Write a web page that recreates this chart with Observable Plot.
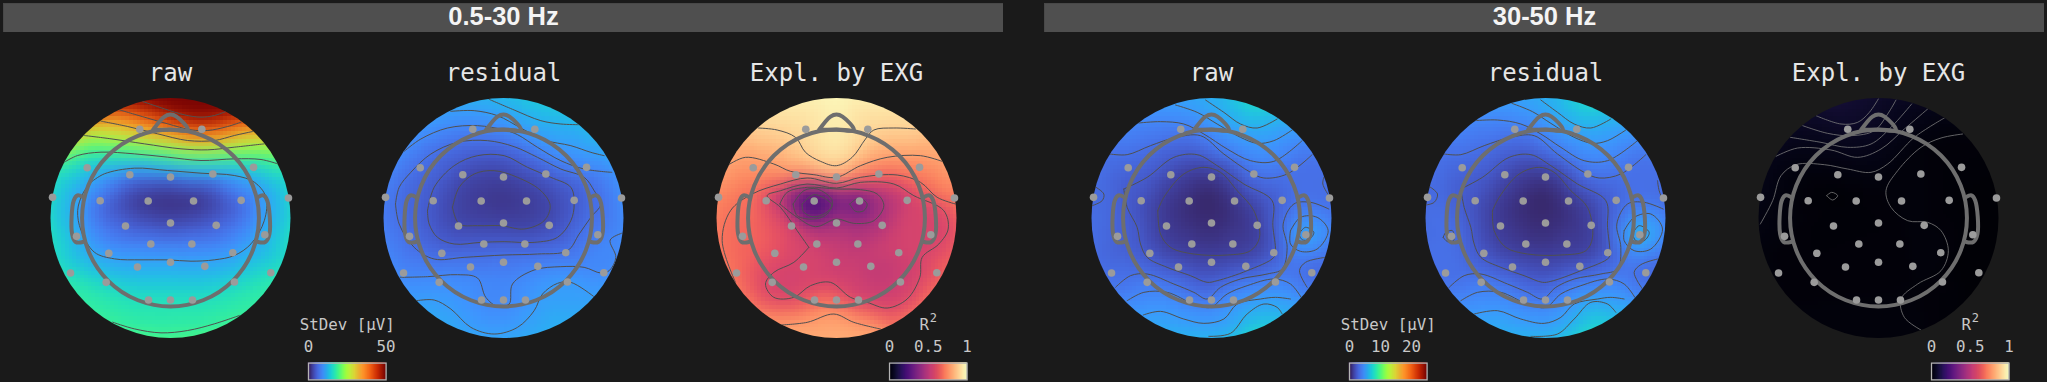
<!DOCTYPE html>
<html><head><meta charset="utf-8">
<script src="https://cdn.jsdelivr.net/npm/d3@7"></script>
<script src="https://cdn.jsdelivr.net/npm/@observablehq/plot@0.6"></script>
<style>
html,body{margin:0;padding:0;background:#1a1a1a;overflow:hidden}
#page{position:relative;width:2047px;height:382px;background:#1a1a1a;overflow:hidden}
#page>div{position:absolute}
</style></head><body><div id="page"></div>
<script>
// ---------- channels (head units: disk radius = 1) ----------
const sensorX=[-.256,.261,-.694,.692,-.339,0,.353,-.983,.983,-.586,-.186,.192,.589,-.375,0,.381,-.783,.786,-.514,-.164,.178,.519,-.275,0,.286,-.833,.836,-.536,.533,-.183,0,.183];
const sensorY=[.739,.739,.419,.422,.361,.342,.367,.172,.167,.144,.142,.142,.147,-.067,-.042,-.061,-.153,-.139,-.294,-.217,-.217,-.289,-.408,-.369,-.403,-.458,-.456,-.536,-.533,-.683,-.683,-.683];
const noseOutline=[[-.145,.735],[-.05,.845],[0,.862],[.05,.845],[.145,.735],[0,.735],[-.145,.735]];
const earLeft=[[-.73,.175],[-.775,.188],[-.806,.146],[-.82,-.132],[-.79,-.2],[-.73,-.2]];
const earRight=[[.73,.175],[.775,.188],[.806,.146],[.825,-.132],[.79,-.2],[.73,-.2]];
const headRadius=.737;

// ---------- 0.5-30 Hz raw, StDev in µV ----------
const lowRawCentre=[508.5,652.5];
const lowRawRim=[70,58,41,18,18,18,19,21,22,21,19,18,18,18.5,41,60];
const lowRawSpots=[[2,510,610],[2.2,420,610],[2.2,600,610],[3,510,570],[3,510,650],[3.5,370,610],[3.5,650,610],[5.5,310,620],[5.5,710,620],[5,510,540],[5,510,690],[5.5,400,680],[5.5,620,680],[5,400,545],[5,620,550],[8,510,730],
[17,400,900],[17,510,900],[17,620,900],[17.5,300,880],[17.5,720,880],[15,180,700],[15,840,700],[14,510,840]];
const lowRawContours=[
[48.5,[425,303,490,325,550,343,600,350,640,345,675,333]],
[41,[355,328,430,350,500,370,570,388,620,390,680,378,720,365]],
[33.5,[300,362,380,378,470,400,560,420,640,420,700,405,755,393]],
[26,[250,405,330,415,430,430,540,445,620,448,700,440,790,430]],
[18.5,[190,485,230,465,300,455,400,460,500,470,600,480,700,475,780,477,830,490]],
[18.5,[335,965,400,985,480,997,560,990,640,970,715,945]],
[11,[270,545,310,520,400,503,500,510,600,518,700,525,760,545,795,590,790,660,750,730,700,765,640,778,570,782,500,778,420,778,340,775,280,755,240,690,230,630,245,580,270,545]]];

// ---------- 0.5-30 Hz residual ----------
const lowResCentre=[398,532];
const lowResRim=[14,16,15,12.5,11,10,13,13,12.5,12.5,12,10,9,10,11.5,13];
const lowResSpots=[[2.2,390,470],[2.6,450,490],[2.6,330,480],[2.8,390,520]];
const lowResContours=[
[12.5,[355,176,430,208,510,240,570,250,625,252]],
[10.8,[240,212,310,210,380,225,450,262,520,298,600,315,660,335,700,345]],
[9,[100,332,150,295,230,262,320,255,400,268,440,282,500,320,570,360,640,385,723,395]],
[7,[74,490,85,550,130,620,190,655,280,650,400,643,500,640,590,630,625,580,660,530,690,490,670,450,640,410,570,385,500,350,430,318,350,300,260,305,180,340,120,395,85,440,74,490]],
[5.2,[170,510,190,440,250,375,320,345,400,345,470,380,540,410,600,440,610,490,600,540,560,590,490,605,400,603,330,605,250,610,200,590,175,550,170,510]],
[3.5,[245,500,265,440,310,400,370,390,440,410,510,450,538,495,520,540,460,565,390,555,320,555,265,550,245,500]],
[9,[88,710,170,708,260,702,320,712,345,770,380,797,415,790,425,730,490,688,570,678,640,680,690,697,715,690,735,650,718,598,752,578]],
[10.8,[138,780,190,778,240,805,300,860,370,880,440,860,490,810,515,760,560,728,600,725,668,767]]];

// ---------- 0.5-30 Hz explained variance, R² ----------
const lowExgCentre=[468,532];
const lowExgRim=[1,.98,.9,.83,.72,.72,.77,.8,.84,.83,.78,.74,.76,.82,.9,.98];
const lowExgSpots=[[.2,400,490],[.28,535,490],[.24,430,490],[.28,370,490],[.25,400,520],[.3,535,500],[.38,468,490],[.41,468,515],[.4,570,500],[.4,330,490],
[.52,600,700],[.54,530,650],[.56,468,700],[.57,640,600],[.66,250,600],[.67,200,650],[.96,468,320],[.53,468,600],[.57,350,720]];
const lowExgContours=[
[.91,[233,262,290,268,345,290,375,335,420,362,468,375,515,350,555,295,580,268,640,262,705,265]],
[.8,[140,375,195,350,280,370,330,392,400,402,468,410,540,375,620,350,720,345,785,362]],
[.7,[165,725,125,600,150,510,215,460,300,430,380,412,468,428,540,410,650,403,720,425,770,470,825,490]],
[.58,[385,620,350,570,300,500,260,465,300,450,380,430,468,442,540,425,640,430,700,465,790,510,803,565,775,610,725,650,718,710,680,775,620,802,560,785,510,770,450,725,390,735,340,770,280,770,255,730,280,695,340,665,385,620]],
[.46,[298,490,320,455,380,440,468,445,540,447,590,460,610,495,580,540,520,548,468,535,405,558,350,530,298,490]],
[.34,[338,490,370,450,410,445,455,480,440,520,400,535,350,525,338,490]],
[.26,[365,490,400,462,440,478,455,495,430,520,395,528,368,512,365,490]],
[.34,[508,490,535,472,560,490,550,510,525,512,508,490]],
[.8,[300,853,380,845,460,820,520,845,600,865]]];

// ---------- 30-50 Hz raw ----------
const highRawCentre=[453,532];
const highRawRim=[6,9,6.2,3.7,3.5,3.2,6.2,9.2,7.2,6.7,5.5,3.5,3.2,3.5,4.7,6];
const highRawSpots=[[.6,450,465],[.8,420,530],[.9,510,530],[1,440,600],[1,350,500],[1.1,530,540],[7.2,735,580],[3.1,760,700],[3.2,800,430],[3,95,465]];
const highRawContours=[
[6.1,[435,178,490,215,540,250,590,262,650,235]],
[5.25,[345,193,410,215,470,250,540,290,590,308,640,300,695,268]],
[4.4,[235,247,300,243,370,250,430,280,500,325,570,360,640,362,725,300]],
[3.5,[148,340,200,342,270,315,340,292,420,285,490,340,570,395,610,412,680,400,755,342]],
[2.6,[190,445,260,410,340,350,410,342,470,375,550,430,635,480,637,555,645,630,640,650,560,690,470,720,440,725,390,705,320,680,260,650,240,610,230,560,200,500,190,445]],
[1.5,[292,510,310,470,370,400,430,380,480,395,530,450,580,510,597,590,570,630,500,643,400,640,330,620,300,580,292,510]],
[3.5,[165,740,210,705,260,700,340,730,400,755,440,775,480,740,540,715,620,700,665,685,680,620,668,550,700,490,750,485,805,505]],
[4.4,[200,780,250,755,320,755,400,790,450,800,500,760,560,735,640,715,690,730,722,770]],
[5.25,[248,823,300,812,370,835,430,848,490,835,530,790,600,775,645,770,690,775]],
[6.1,[445,887,510,878,560,820,610,790,650,800,665,820]],
[4.7,[690,570,720,530,770,530,803,570,770,625,720,632,690,610,690,570]],
[5.6,[715,580,735,560,760,575,745,597,725,597,715,580]],
[3.5,[795,650,735,665,717,690,740,740]],
[3.5,[790,410,787,430,805,465]],
[3.5,[102,437,130,460,125,480,95,495]]];

// ---------- 30-50 Hz residual ----------
const highResCentre=[404,532];
const highResRim=[6,9,6.2,3.7,3.5,3.2,6.2,9.2,7.2,6.7,5.5,3.5,3.2,3.5,4.7,6];
const highResSpots=[[.6,400,465],[.8,370,530],[.9,460,530],[1,390,600],[1,300,500],[1.1,480,540],[8,685,582],[2.9,705,695],[3,755,440],[2.9,50,467],[3.8,115,587]];
const highResContours=[
[6.1,[390,178,440,215,490,250,540,262,600,235]],
[5.25,[303,188,365,213,420,248,490,290,545,308,590,300,645,268]],
[4.4,[190,240,260,238,330,250,390,280,450,320,520,360,590,360,680,300]],
[3.5,[100,340,150,342,220,315,300,290,370,285,440,340,520,395,565,412,630,400,705,342]],
[2.6,[150,445,215,410,295,350,360,342,420,375,500,430,585,480,590,560,597,630,595,650,510,690,420,722,395,725,340,705,270,680,210,650,190,610,180,560,160,500,150,445]],
[1.5,[245,510,265,470,325,400,385,380,430,395,480,450,530,500,545,590,525,630,450,643,350,640,285,620,250,570,245,510]],
[3.5,[115,740,160,705,210,700,290,730,350,755,395,775,435,740,490,715,570,700,620,685,630,620,618,550,650,490,700,485,757,505]],
[4.4,[150,780,200,755,270,755,350,790,405,800,450,760,510,735,590,715,640,730,672,770]],
[5.25,[190,820,260,810,330,835,400,848,450,830,490,790,560,775,600,770,640,775]],
[6.1,[360,887,440,880,490,835,540,785,590,790,615,815]],
[5,[640,570,670,530,720,520,755,565,720,625,670,630,640,600,640,570]],
[6,[665,580,685,555,715,575,700,600,675,600,665,580]],
[3.5,[740,655,690,672,670,695,695,745]],
[3.5,[740,420,745,450,757,480]],
[3.5,[55,437,80,460,70,485,45,493]],
[3.5,[97,590,105,575,125,570,128,600,110,603,97,590]]];

// ---------- 30-50 Hz explained variance ----------
const highExgCentre=[412.5,532];
const highExgRim=[.1,.08,.03,.012,.008,.008,.008,.012,.02,.02,.02,.022,.035,.05,.09,.11];
const highExgSpots=[[.008,272,465],[.012,300,500],[.015,400,550],[.008,700,500],[.008,650,650]];
const highExgContours=[
[.075,[225,225,300,250,350,245,385,215,412,175]],
[.06,[185,255,260,278,330,285,400,270,440,220,465,178]],
[.05,[148,290,240,305,320,320,390,310,450,260,512,190]],
[.04,[105,347,170,322,270,328,350,350,420,325,490,265,560,205]],
[.03,[58,550,95,480,120,405,165,372,250,372,320,385,390,395,440,370,520,290,610,232]],
[.02,[665,280,600,292,540,320,470,390,435,450,450,500,500,540,560,545,600,570,622,630,600,690,530,730,480,775,490,830,540,868]],
[.01,[257,465,272,455,290,465,275,478,257,465]]];

// ---------- colour scales and labels ----------
const turboPositions=[0,.05,.1,.15,.2,.25,.3,.35,.4,.45,.5,.6,.7,.8,.9,1];
const turboStops=["#30123b","#3e388f","#4558c9","#4776ee","#3f94ff","#27b2f0","#1ccfd5","#27e6b2","#46f783","#75fe5c","#a4fc3c","#e2dc38","#fe9b2d","#f36315","#c92903","#7a0403"];
const bandLabels=["0.5-30 Hz","30-50 Hz"];
const panelTitles=["raw","residual","Expl. by EXG"];
const lowStdMax=50, highStdMax=25;
const lowStdTicks=[0,50], highStdTicks=[0,10,20], r2Ticks=[0,.5,1];
const stdLabel="StDev [µV]", r2Label="R", r2Exponent="2";

// ---------- drawing ----------
const mono="'DejaVu Sans Mono',monospace";
const page=document.getElementById("page");
const turbo=d3.scaleLinear().domain(turboPositions).range(turboStops);
function place(node,left,top){const d=document.createElement("div");d.style.left=left+"px";d.style.top=top+"px";d.appendChild(node);page.appendChild(d);}
function colorOf(kind,max){
  return kind==="std"?{type:"linear",domain:[0,max],interpolate:t=>turbo(t),clamp:true}
                     :{type:"linear",domain:[0,1],scheme:"magma",clamp:true};
}
function header(label,left,width){
  place(Plot.plot({width,height:29,margin:0,style:{background:"none"},x:{axis:null},y:{axis:null},marks:[
    Plot.frame({fill:"#4f4f4f",stroke:"#484848"}),
    Plot.text([label],{frameAnchor:"middle",dy:-1,fontSize:25.5,fontWeight:"bold",fontFamily:"'Liberation Sans',Arial,sans-serif",fill:"#f4f4f4"})
  ]}),left,3);
}
function topomap(pageX,title,centre,rim,spots,contours,color,lineColor,lineWidth,idx){
  const [cx,cy]=centre, toX=x=>(x-cx)/360, toY=y=>(cy-y)/360;
  const samples=[], traces=[];
  rim.forEach((v,k)=>{const a=k*Math.PI/8;samples.push({x:1.15*Math.sin(a),y:1.15*Math.cos(a),v});});
  for(const [v,x,y] of spots) samples.push({x:toX(x),y:toY(y),v});
  contours.forEach(([v,pts],id)=>{for(let i=0;i<pts.length;i+=2){const p={x:toX(pts[i]),y:toY(pts[i+1]),v,id};samples.push(p);traces.push(p);}});
  const sensors=sensorX.map((x,i)=>({x,y:sensorY[i]}));
  const outline=[["n",noseOutline],["l",earLeft],["r",earRight]].flatMap(([part,pts])=>pts.map(([x,y])=>({x,y,part})));
  const svg=Plot.plot({width:264,height:300,margin:0,style:{background:"none"},color,
    x:{axis:null,domain:[-1.1,1.1],range:[0,264]},
    y:{axis:null,domain:[-1.104,1.3958],range:[300,0]},
    marks:[
      Plot.raster(samples,{x:"x",y:"y",fill:"v",interpolate:"barycentric",pixelSize:3.75,blur:1.5,imageRendering:"pixelated",x1:-1.1,x2:1.1,y1:-1.1,y2:1.1}),
      Plot.line(traces,{x:"x",y:"y",z:"id",curve:"catmull-rom",stroke:lineColor,strokeWidth:lineWidth}),
      Plot.line(outline,{x:"x",y:"y",z:"part",curve:"catmull-rom",stroke:"#6e6e6e",strokeWidth:4}),
      Plot.dot([{x:0,y:0}],{x:"x",y:"y",r:headRadius*120,stroke:"#6e6e6e",strokeWidth:4,fill:"none"}),
      Plot.dot(sensors,{x:"x",y:"y",r:3.8,fill:"#9b9b9b"}),
      Plot.text([title],{x:0,y:1.1375,text:d=>d,lineAnchor:"bottom",fontSize:24,fontFamily:mono,fill:"#e6e6e6"})
    ]});
  const sx=svg.scale("x"), sy=svg.scale("y");
  const NS="http://www.w3.org/2000/svg";
  const clip=document.createElementNS(NS,"clipPath"); clip.setAttribute("id","disk"+idx);
  const c=document.createElementNS(NS,"circle");
  c.setAttribute("cx",sx.apply(0));c.setAttribute("cy",sy.apply(0));c.setAttribute("r",120);
  clip.appendChild(c); svg.insertBefore(clip,svg.firstChild);
  const clipped=[svg.querySelector('[aria-label="raster"]'),svg.querySelector('[aria-label="line"]')];
  clipped.forEach(g=>{if(g)g.setAttribute("clip-path",`url(#disk${idx})`);});
  place(svg,pageX-132,50);
}
function colorbar(left,label,exponent,kind,max,ticks){
  const w=77.6, ml=35, mr=35;
  const bar=d3.range(0,80).map(i=>({v:(i+.5)/80*max}));
  const marks=[
      Plot.rectY(bar,{x1:d=>d.v-max/160,x2:d=>d.v+max/160,y1:0,y2:1,fill:"v",inset:-.3}),
      Plot.frame({stroke:"#b4b4b4",strokeWidth:1.3}),
      Plot.axisX({anchor:"top",ticks,tickSize:0,tickPadding:11,tickFormat:d=>String(d),fontSize:15.8,fontFamily:mono,color:"#c8c8c8",label:null}),
      Plot.text([label],{x:max/2,y:1,text:d=>d,dx:exponent?-4:0,dy:-32.6,lineAnchor:"bottom",fontSize:15.8,fontFamily:mono,fill:"#c8c8c8"})];
  if(exponent) marks.push(Plot.text([exponent],{x:max/2,y:1,text:d=>d,dx:5,dy:-41,lineAnchor:"bottom",fontSize:12,fontFamily:mono,fill:"#c8c8c8"}));
  const svg=Plot.plot({width:w+ml+mr,height:82,marginLeft:ml,marginRight:mr,marginTop:62.6,marginBottom:2.6,
    style:{background:"none"},color:colorOf(kind,max),
    x:{domain:[0,max],axis:null},y:{domain:[0,1],axis:null},marks});
  place(svg,left-ml,300);
}
header(bandLabels[0],3,1000);
header(bandLabels[1],1044,1000);
const lowStd=colorOf("std",lowStdMax), highStd=colorOf("std",highStdMax), r2=colorOf("r2",1);
topomap(169.5,panelTitles[0],lowRawCentre,lowRawRim,lowRawSpots,lowRawContours,lowStd,"#505050",1,0);
topomap(502.7,panelTitles[1],lowResCentre,lowResRim,lowResSpots,lowResContours,lowStd,"#505050",1,1);
topomap(836,panelTitles[2],lowExgCentre,lowExgRim,lowExgSpots,lowExgContours,r2,"#505050",1,2);
topomap(1211,panelTitles[0],highRawCentre,highRawRim,highRawSpots,highRawContours,highStd,"#505050",1,3);
topomap(1544.7,panelTitles[1],highResCentre,highResRim,highResSpots,highResContours,highStd,"#505050",1,4);
topomap(1877.5,panelTitles[2],highExgCentre,highExgRim,highExgSpots,highExgContours,r2,"#7c7c7c",.8,5);
colorbar(307.5,stdLabel,null,"std",lowStdMax,lowStdTicks);
colorbar(888.5,r2Label,r2Exponent,"r2",1,r2Ticks);
colorbar(1349.3,stdLabel,null,"std",highStdMax,highStdTicks);
colorbar(1930.5,r2Label,r2Exponent,"r2",1,r2Ticks);
</script></body></html>
